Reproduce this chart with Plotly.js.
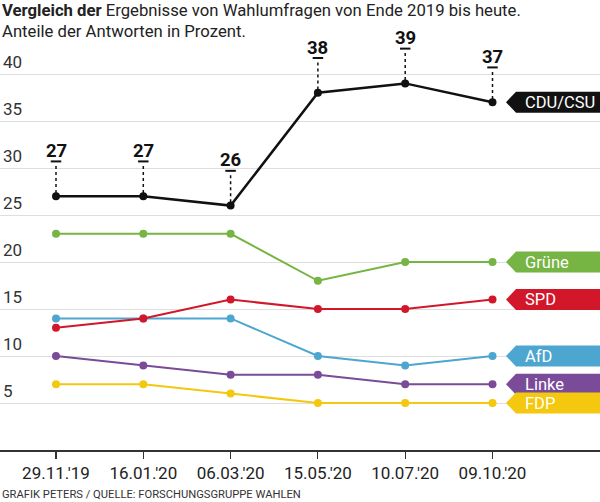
<!DOCTYPE html>
<html>
<head>
<meta charset="utf-8">
<script src="https://cdn.plot.ly/plotly-3.0.1.min.js"></script>
<style>
  html, body { margin: 0; padding: 0; background: #fff; }
  #chart { width: 600px; height: 502px; }
</style>
</head>
<body>
<div id="chart"></div>
<script>
// Umfragetermine
var dates = ["29.11.'19", "16.01.'20", "06.03.'20", "15.05.'20", "10.07.'20", "09.10.'20"];

// Werte in Prozent
var cdu   = [27, 27, 26, 38, 39, 37];
var gruene = [23, 23, 23, 18, 20, 20];
var spd   = [13, 14, 16, 15, 15, 16];
var afd   = [14, 14, 14, 10, 9, 10];
var linke = [10, 9, 8, 8, 7, 7];
var fdp   = [7, 7, 6, 5, 5, 5];

var parties = ["CDU/CSU", "Grüne", "SPD", "AfD", "Linke", "FDP"];
var yTicks = [5, 10, 15, 20, 25, 30, 35, 40];

var series = [cdu, gruene, spd, afd, linke, fdp];
var colors = ["#111111", "#76b443", "#d2172b", "#4da6cf", "#7a4b98", "#f3c80f"];
var idx = dates.map(function (d, i) { return i; });

var fontMain = "Roboto, 'Noto Sans', sans-serif";

var data = [];
// draw CDU last so it sits on top
for (var s = series.length - 1; s >= 0; s--) {
	data.push({
		x: idx,
		y: series[s],
		type: 'scatter',
		mode: 'lines+markers',
		hoverinfo: 'none',
		cliponaxis: false,
		line: { color: colors[s], width: s == 0 ? 2.5 : 2 },
		marker: { color: colors[s], size: 8 }
	});
}

var shapes = [];
var annotations = [];

// Werte-Labels über CDU/CSU
for (var i = 0; i < cdu.length; i++) {
	shapes.push({
		type: 'line', xref: 'x', yref: 'y',
		x0: i, x1: i, y0: cdu[i] + 0.35, y1: cdu[i] + 3.4,
		line: { color: '#111', width: 1.5, dash: 'dot' }
	});
	shapes.push({
		type: 'line', xref: 'x', yref: 'y',
		x0: i - 0.06, x1: i + 0.06, y0: cdu[i] + 3.7, y1: cdu[i] + 3.7,
		line: { color: '#111', width: 2 }
	});
	annotations.push({
		x: i, y: cdu[i] + 4.8, xref: 'x', yref: 'y',
		text: '<b>' + cdu[i] + '</b>', showarrow: false,
		xanchor: 'center', yanchor: 'middle',
		font: { family: fontMain, size: 18.5, color: '#111' }
	});
}

// Partei-Fähnchen rechts
for (var s = 0; s < series.length; s++) {
	var last = series[s][series[s].length - 1];
	shapes.push({
		type: 'path', layer: 'above',
		xref: 'paper', xsizemode: 'pixel', xanchor: 1,
		yref: 'y', ysizemode: 'pixel', yanchor: last,
		path: 'M-94,0 L-84,-10.5 L0,-10.5 L0,10.5 L-84,10.5 Z',
		fillcolor: colors[s],
		line: { width: 0 }
	});
	annotations.push({
		x: 523 / 600, y: last, xref: 'paper', yref: 'y',
		text: parties[s], showarrow: false,
		xanchor: 'left', yanchor: 'middle',
		font: { family: fontMain, size: 16.5, color: '#fff' }
	});
}

// Titel und Quelle
annotations.push({
	x: 0, y: 11, xref: 'paper', yref: 'paper', yanchor: 'middle', xanchor: 'left',
	text: '<b>Vergleich der</b> Ergebnisse von Wahlumfragen von Ende 2019 bis heute.',
	showarrow: false, font: { family: fontMain, size: 16.7, color: '#222' }
});
annotations.push({
	x: 0, y: 32, xref: 'paper', yref: 'paper', yanchor: 'middle', xanchor: 'left',
	text: 'Anteile der Antworten in Prozent.',
	showarrow: false, font: { family: fontMain, size: 16.7, color: '#222' }
});
annotations.push({
	x: 0, y: 494, xref: 'paper', yref: 'paper', yanchor: 'middle', xanchor: 'left',
	text: 'GRAFIK PETERS / QUELLE: FORSCHUNGSGRUPPE WAHLEN',
	showarrow: false, font: { family: fontMain, size: 11.2, color: '#333' }
});

// Pixel -> paper für die Texte oben/unten
var plotTop = 6, plotBottom = 450;
annotations.forEach(function (a) {
	if (a.yref == 'paper') {
		a.y = (plotBottom - a.y) / (plotBottom - plotTop);
	}
});

var pxPerStep = 87.3, firstX = 56;

var layout = {
	width: 600,
	height: 502,
	margin: { t: plotTop, b: 502 - plotBottom, l: 0, r: 0 },
	paper_bgcolor: '#fff',
	plot_bgcolor: '#fff',
	showlegend: false,
	dragmode: false,
	font: { family: fontMain, color: '#222' },
	xaxis: {
		range: [-firstX / pxPerStep, (600 - firstX) / pxPerStep],
		tickvals: idx,
		ticktext: dates,
		showgrid: false,
		zeroline: false,
		showline: true,
		linecolor: '#333',
		linewidth: 1.5,
		ticks: 'outside',
		ticklen: 7,
		tickwidth: 1.2,
		tickcolor: '#333',
		tickfont: { family: fontMain, size: 17, color: '#222' },
		fixedrange: true
	},
	yaxis: {
		range: [0, (plotBottom - plotTop) / 9.4],
		tickvals: yTicks,
		ticktext: yTicks.map(String),
		showgrid: true,
		gridcolor: '#dedede',
		gridwidth: 1,
		zeroline: false,
		showline: false,
		ticks: '',
		ticklabelposition: 'inside top',
		tickfont: { family: fontMain, size: 17, color: '#333' },
		fixedrange: true
	},
	shapes: shapes,
	annotations: annotations
};

Plotly.newPlot('chart', data, layout, { displayModeBar: false, staticPlot: true });
</script>
</body>
</html>
